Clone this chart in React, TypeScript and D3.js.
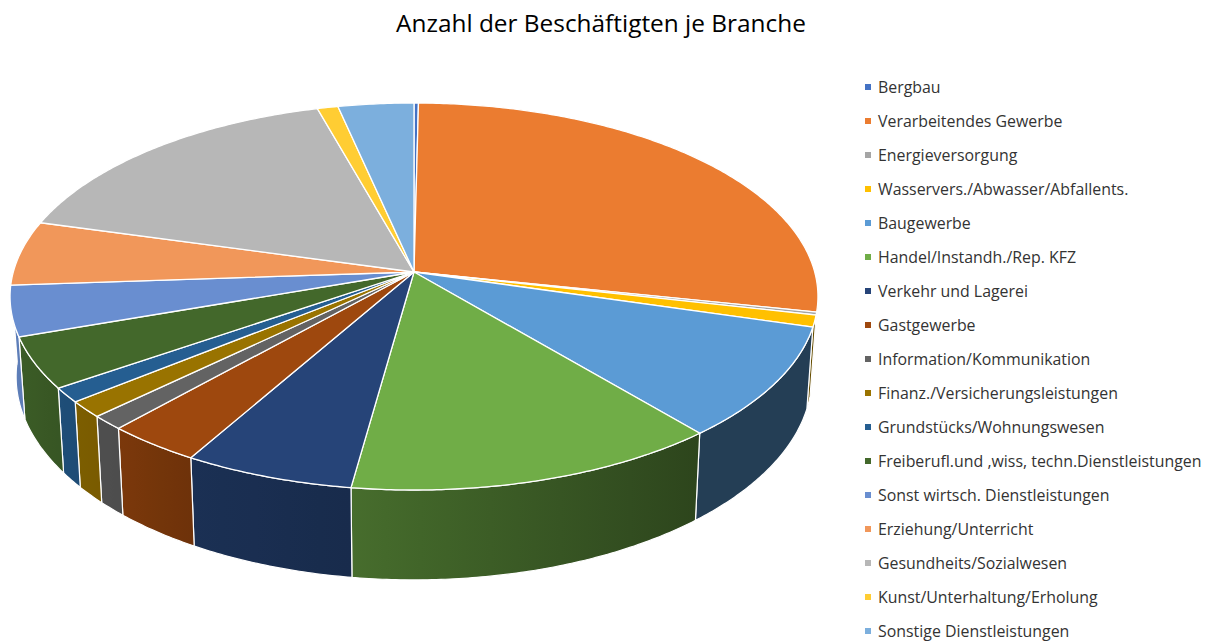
import React from "react";
import * as d3 from "d3";

const categories = [
  "Bergbau",
  "Verarbeitendes Gewerbe",
  "Energieversorgung",
  "Wasservers./Abwasser/Abfallents.",
  "Baugewerbe",
  "Handel/Instandh./Rep. KFZ",
  "Verkehr und Lagerei",
  "Gastgewerbe",
  "Information/Kommunikation",
  "Finanz./Versicherungsleistungen",
  "Grundstücks/Wohnungswesen",
  "Freiberufl.und ,wiss, techn.Dienstleistungen",
  "Sonst wirtsch. Dienstleistungen",
  "Erziehung/Unterricht",
  "Gesundheits/Sozialwesen",
  "Kunst/Unterhaltung/Erholung",
  "Sonstige Dienstleistungen",
];
// share of employees in percent
const shares = [0.2, 28.08, 0.24, 0.98, 9.36, 13.33, 6.06, 3.39, 1.19, 1.36, 1.22, 4.28, 4.22, 5.39, 16.33, 0.94, 3.42];
const colors = [
  "#4472C4", "#EB7C30", "#A5A5A5", "#FFC000", "#5B9BD5", "#70AD47", "#264478", "#9E480E", "#636363",
  "#997300", "#255E91", "#43682B", "#698ED0", "#F1975A", "#B7B7B7", "#FFCD33", "#7CAFDD",
];
const shadeAngles = [95, 140, 188, 210, 222, 250, 267];
const shadeLevels = [0.4, 0.4, 0.63, 0.7, 0.78, 0.88, 0.92];

const W = 1212;
const H = 643;
const cx = 414;
const cy = 272;
const Rx = 400.7;
const Ry = 190.4;
const k = 0.1266; // perspective of the tilted disc
const TAU = Math.PI * 2;

// clockwise angle from 12 o'clock to the rim of the top disc
const rim = (a: number): [number, number] => {
  const u = Math.sin(a);
  const v = -Math.cos(a);
  const s = 1 / (1 - k * v);
  return [cx + Rx * u * s, cy + Ry * v * s];
};
// same rim on the lower disc
const lowerRim = (a: number): [number, number] => {
  const [x, y] = rim(a);
  return [cx + (x - cx) * 0.985, y + 79 + 0.05 * (y - cy)];
};

const arcAngles = (a0: number, a1: number) => d3.range(a0, a1, 0.01).concat(a1);
const toDeg = d3.scaleLinear().domain([0, TAU]).range([0, 360]);
const shade = d3.scaleLinear<number>().domain(shadeAngles).range(shadeLevels).clamp(true);
const darker = (color: string, f: number) => {
  const c = d3.rgb(color);
  return d3.rgb(c.r * f, c.g * f, c.b * f).formatHex();
};

const legendY = d3.scalePoint<string>().domain(categories).range([87, 631]);
const line = d3.line();
const sideMin = toDeg.invert(95);
const sideMax = toDeg.invert(267);

export default function App() {
  const arcs = d3.pie<number>().sort(null).startAngle(0).endAngle(TAU)(shares);

  return (
    <svg
      width={W}
      height={H}
      viewBox={`0 0 ${W} ${H}`}
      style={{ position: "absolute", left: 0, top: 0, background: "#fff" }}
      fontFamily="'Open Sans', 'Noto Sans', sans-serif"
    >
      <defs>
        {arcs.map((d, i) => {
          const a0 = Math.max(d.startAngle, sideMin);
          const a1 = Math.min(d.endAngle, sideMax);
          if (a1 <= a0) return null;
          const stops = d3.range(0, 1.001, 0.2);
          return (
            <linearGradient
              key={i}
              id={`side-${i}`}
              gradientUnits="userSpaceOnUse"
              x1={rim(a0)[0]}
              y1={0}
              x2={rim(a1)[0]}
              y2={0}
            >
              {stops.map((t) => (
                <stop
                  key={t}
                  offset={t}
                  stopColor={darker(colors[i], shade(toDeg(a0 + (a1 - a0) * t)))}
                />
              ))}
            </linearGradient>
          );
        })}
      </defs>

      <text x={601} y={31.5} textAnchor="middle" fontSize={24.4} fill="#000">
        Anzahl der Beschäftigten je Branche
      </text>

      {/* side walls first, the top disc covers what is hidden */}
      {arcs.map((d, i) => {
        const a0 = Math.max(d.startAngle, sideMin);
        const a1 = Math.min(d.endAngle, sideMax);
        if (a1 <= a0) return null;
        const angles = arcAngles(a0, a1);
        const pts = [...angles.map(rim), ...angles.slice().reverse().map(lowerRim)];
        return <path key={i} d={line(pts) + "Z"} fill={`url(#side-${i})`} stroke="#fff" strokeWidth={1.2} />;
      })}

      {arcs.map((d, i) => {
        const pts: [number, number][] = [[cx, cy], ...arcAngles(d.startAngle, d.endAngle).map(rim)];
        return <path key={i} d={line(pts) + "Z"} fill={colors[i]} stroke="#fff" strokeWidth={1.3} />;
      })}

      {categories.map((c, i) => (
        <g key={c}>
          <rect x={865} y={legendY(c)! - 3} width={6} height={6} fill={colors[i]} />
          <text x={878} y={legendY(c)! + 5.7} fontSize={15.9} fill="#333">
            {c}
          </text>
        </g>
      ))}
    </svg>
  );
}
